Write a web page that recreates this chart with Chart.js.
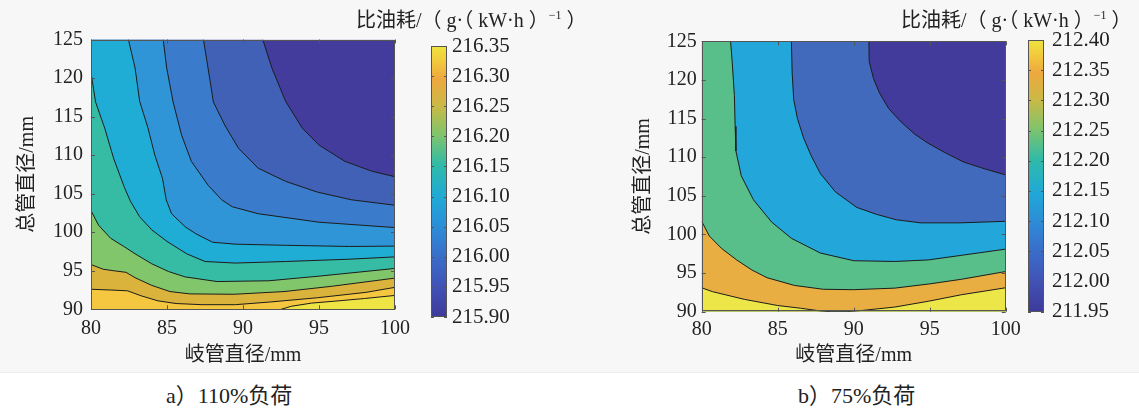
<!DOCTYPE html>
<html>
<head>
<meta charset="utf-8">
<script src="https://cdn.jsdelivr.net/npm/chart.js@4.4.1/dist/chart.umd.min.js"></script>
<style>
html,body{margin:0;padding:0;background:#fff;}
#stage{position:relative;width:1139px;height:410px;overflow:hidden;background:#fff;}
#band{position:absolute;left:0;top:0;width:1139px;height:372px;background:#f7f7f7;border-bottom:1px solid #ededed;}
canvas{position:absolute;top:0;}
.t{position:absolute;font-family:'Liberation Serif','Times New Roman','DejaVu Serif','Noto Sans CJK SC',serif;color:#222;white-space:nowrap;line-height:1;}
</style>
</head>
<body>
<div id="stage">
  <div id="band"></div>
  <canvas id="cA" width="420" height="372" style="left:0px"></canvas>
  <canvas id="bA" width="160" height="372" style="left:420px"></canvas>
  <canvas id="cB" width="420" height="372" style="left:610px"></canvas>
  <canvas id="bB" width="122" height="372" style="left:1017px"></canvas>
  <div class="t" style="left:356px;top:10px;font-size:20px">比油耗/（ g·（ kW·h ）<span style="font-size:12px;position:relative;top:-8px">−1</span> ）</div>
  <div class="t" style="left:901px;top:10px;font-size:20px">比油耗/（ g·（ kW·h ）<span style="font-size:12px;position:relative;top:-8px">−1</span> ）</div>
  <div class="t" style="left:166px;top:385px;font-size:22px">a）110%负荷</div>
  <div class="t" style="left:798px;top:385px;font-size:22px">b）75%负荷</div>
</div>
<script>
// ---------- axes ----------
const X_MIN = 80, X_MAX = 100, Y_MIN = 90, Y_MAX = 125;
const xTicks = [80, 85, 90, 95, 100];
const yTicks = [90, 95, 100, 105, 110, 115, 120, 125];
const cbTicksA = [215.90, 215.95, 216.00, 216.05, 216.10, 216.15, 216.20, 216.25, 216.30, 216.35];
const cbTicksB = [211.95, 212.00, 212.05, 212.10, 212.15, 212.20, 212.25, 212.30, 212.35, 212.40];

// ---------- a) 110% load: contour lines [x, y] ----------
const a_lineA = [[91.3,125],[91.9,121.3],[92.8,117],[93.9,113.5],[95.0,111.3],[96.7,109.2],[98.5,107.9],[100,107.2]];
const a_lineB = [[87.4,125],[87.7,121.3],[88.05,116.9],[88.8,113.9],[89.7,110.9],[91,108.3],[92.8,106.6],[94.9,105.2],[97.15,104.2],[100,103.5]];
const a_lineC = [[84.75,125],[84.98,121.3],[85.4,116.9],[85.96,112.6],[86.6,109.2],[87.7,106.1],[88.6,104.2],[89.3,103.3],[91,102.4],[95,101.3],[100,100.6]];
const a_lineD = [[82.46,125],[82.9,121.3],[83.2,117],[83.75,113.5],[84.2,110],[84.7,107],[84.95,104.2],[85.3,102.4],[86.2,100.7],[86.9,99.8],[88,98.7],[89.5,98.45],[92.8,98.3],[97,98.15],[100,98.2]];
const a_lineE = [[80,120.7],[80.3,116.9],[80.9,113.5],[81.5,109.5],[82.2,105.8],[82.6,104],[83.2,102],[84,100.3],[85,98.8],[86.3,97.2],[87.5,96.2],[89.5,96.0],[92.8,96.2],[97,96.5],[100,96.8]];
const a_lineF = [[80,102.8],[80.5,100.9],[81.3,99.2],[82.2,98.1],[82.9,97.2],[84,95.9],[85.1,94.9],[86.2,94.2],[88.3,93.6],[91.7,93.7],[95,94.3],[100,95.3]];
const a_lineG = [[80,95.8],[80.8,95.2],[81.5,95.0],[82.3,94.8],[82.9,94.1],[84,93.1],[85.2,92.3],[86.5,92.0],[89.4,91.95],[92.7,92.3],[95.9,93.0],[100,94.05]];
const a_lineH = [[80,92.6],[81.3,92.5],[82.4,92.4],[83.3,91.75],[84.4,91.1],[85.6,90.75],[87.3,90.6],[89.5,90.6],[91.8,90.95],[94.9,91.5],[98.1,92.2],[100,92.85]];
const a_lineJ = [[92.5,90],[93.2,90.4],[94.5,90.8],[96,91.05],[98,91.4],[100,91.8]];

// ---------- b) 75% load: contour lines [x, y] ----------
const b_lineP = [[91,125],[91.02,122.4],[91.3,120.2],[91.7,118.3],[92.3,116.3],[93.1,114.6],[94,113],[94.9,111.8],[96,110.6],[97.2,109.4],[98.6,108.5],[100,107.7]];
const b_lineQ = [[85.9,125],[85.95,121],[86.05,117.5],[86.3,115],[86.7,112.5],[87.2,110.2],[87.8,107.9],[88.8,105.5],[90.2,103.5],[91.5,102.6],[92.8,101.9],[94.4,101.5],[97,101.5],[100,101.7]];
const b_lineR = [[81.9,125],[82.0,122.5],[82.15,118],[82.2,114],[82.25,110.8],[82.6,107.6],[83.4,104.5],[84.6,101.6],[85.9,99.5],[87.8,97.6],[90,96.6],[92.7,96.5],[94.9,96.7],[97.1,97.3],[100,98.1]];
const b_lineS = [[80,101.7],[80.5,99.8],[81.3,98.2],[82.3,96.7],[83.3,95.4],[84.3,94.4],[86.1,93.4],[88,92.9],[90,92.85],[92.7,93.05],[95,93.6],[97.1,94.2],[100,95.2]];
const b_lineT = [[80,93.1],[80.7,92.6],[82.8,91.6],[85,90.8],[86.5,90.45],[87.8,90.1],[88.5,90],[89.5,90],[90.5,90.15],[92.7,90.6],[94.9,91.35],[97.1,92.2],[100,93.1]];

// ---------- colours ----------
const aColors = ['#433c9c','#4161b6','#3a7bcb','#2f95d7','#20add5','#36bca4','#82c66b','#dab33d','#f5c640','#eee544'];
const bColors = ['#433b9b','#4169bc','#23a6d9','#58bf8a','#e8ae42','#ede649'];
const cbStops = [[0,'#3d3a9a'],[0.11,'#4152b5'],[0.22,'#3a6dc8'],[0.33,'#2d8cd7'],[0.44,'#1fa9d6'],[0.56,'#30baa8'],[0.67,'#7dc46d'],[0.78,'#cbb946'],[0.88,'#eea83e'],[0.95,'#f2cd3d'],[1,'#eee43d']];
const LINE_COLOR = '#1c1c1c';
const FONT = "'Liberation Serif','Times New Roman','DejaVu Serif','Noto Sans CJK SC',serif";
const TXT = '#222';

const framePlugin = {
  id: 'frame',
  afterDatasetsDraw(chart, args, o) {
    if (!o || !o.on) return;
    const {ctx, chartArea: a, scales} = chart;
    ctx.save();
    ctx.strokeStyle = o.color; ctx.lineWidth = 1;
    ctx.strokeRect(Math.round(a.left)+0.5, Math.round(a.top)+0.5, Math.round(a.right-a.left)-1, Math.round(a.bottom-a.top)-1);
    const L = o.len;
    ctx.beginPath();
    if (o.x) {
      scales.x.ticks.forEach(t => {
        const p = Math.round(scales.x.getPixelForValue(t.value)) + 0.5;
        ctx.moveTo(p, a.bottom); ctx.lineTo(p, a.bottom - L);
        ctx.moveTo(p, a.top); ctx.lineTo(p, a.top + L);
      });
    }
    scales.y.ticks.forEach(t => {
      const p = Math.round(scales.y.getPixelForValue(t.value)) + 0.5;
      ctx.moveTo(a.left, p); ctx.lineTo(a.left + L, p);
      ctx.moveTo(a.right, p); ctx.lineTo(a.right - L, p);
    });
    ctx.stroke();
    ctx.restore();
  }
};

// filled region on the high side of a contour line
function regionSet(line, color) {
  const pts = line.map(([x, y]) => ({x, y}));
  if (pts[0].y === Y_MAX && pts[0].x > X_MIN) pts.unshift({x: X_MIN, y: Y_MAX});
  return {data: pts, fill: 'start', backgroundColor: color, borderWidth: 0, pointRadius: 0, tension: 0};
}
// the contour line itself
function lineSet(line) {
  return {data: line.map(([x, y]) => ({x, y})), fill: false, borderColor: LINE_COLOR, borderWidth: 1, pointRadius: 0, tension: 0};
}
function backSet(color) {
  return {data: [{x: X_MIN, y: Y_MAX}, {x: X_MAX, y: Y_MAX}], fill: 'start', backgroundColor: color, borderWidth: 0, pointRadius: 0};
}

function contourChart(id, datasets, g) {
  return new Chart(document.getElementById(id), {
    type: 'line',
    data: {datasets},
    options: {
      responsive: false, animation: false, events: [],
      layout: {padding: {left: 0, top: g.top, right: g.right, bottom: 0}},
      plugins: {
        legend: {display: false}, tooltip: {enabled: false},
        filler: {drawTime: 'beforeDatasetsDraw', propagate: false},
        frame: {on: true, color: '#555', len: 4, x: true}
      },
      scales: {
        x: {
          type: 'linear', min: X_MIN, max: X_MAX,
          afterFit: s => { s.height = g.xh; },
          afterBuildTicks: s => { s.ticks = xTicks.map(v => ({value: v})); },
          grid: {display: false, drawTicks: false}, border: {display: false},
          ticks: {padding: g.xpad, autoSkip: false, maxRotation: 0, color: TXT, font: {family: FONT, size: 20}},
          title: {display: true, text: '岐管直径/mm', color: TXT, font: {family: FONT, size: 20}, padding: {top: 0, bottom: 4}}
        },
        y: {
          type: 'linear', min: Y_MIN, max: Y_MAX,
          afterFit: s => { s.width = g.yw; },
          afterBuildTicks: s => { s.ticks = yTicks.map(v => ({value: v})); },
          grid: {display: false, drawTicks: false}, border: {display: false},
          ticks: {padding: g.ypad, autoSkip: false, color: TXT, font: {family: FONT, size: 20}},
          title: {display: true, text: '总管直径/mm', color: TXT, font: {family: FONT, size: 20}, padding: {top: g.tpad, bottom: 0}}
        }
      }
    },
    plugins: [framePlugin]
  });
}

function colorbar(id, ticks, g) {
  const lo = ticks[0], hi = ticks[ticks.length - 1];
  return new Chart(document.getElementById(id), {
    type: 'bar',
    data: {labels: [''], datasets: [{
      data: [[lo, hi]], borderWidth: 0, barPercentage: 1, categoryPercentage: 1,
      backgroundColor: c => {
        const a = c.chart.chartArea;
        if (!a) return cbStops[0][1];
        const gr = c.chart.ctx.createLinearGradient(0, a.bottom, 0, a.top);
        cbStops.forEach(([s, col]) => gr.addColorStop(s, col));
        return gr;
      }
    }]},
    options: {
      responsive: false, animation: false, events: [],
      layout: {padding: {left: g.left, top: g.top, right: 0, bottom: g.bottom}},
      plugins: {legend: {display: false}, tooltip: {enabled: false}, frame: {on: true, color: '#555', len: 3, x: false}},
      scales: {
        x: {display: false},
        y: {
          position: 'right', min: lo, max: hi,
          afterFit: s => { s.width = g.w; },
          afterBuildTicks: s => { s.ticks = ticks.map(v => ({value: v})); },
          grid: {display: false, drawTicks: false}, border: {display: false},
          ticks: {padding: g.pad, autoSkip: false, color: TXT, font: {family: FONT, size: 21}, callback: v => Number(v).toFixed(2)}
        }
      }
    },
    plugins: [framePlugin]
  });
}

function buildSets(lines, colors) {
  const sets = lines.map(l => lineSet(l));
  const regions = lines.map((l, i) => regionSet(l, colors[i + 1])).reverse();
  return sets.concat(regions, [backSet(colors[0])]);
}

contourChart('cA', buildSets([a_lineA, a_lineB, a_lineC, a_lineD, a_lineE, a_lineF, a_lineG, a_lineH, a_lineJ], aColors),
  {top: 39.5, right: 25, xh: 62.7, xpad: 7, yw: 91, ypad: 8, tpad: 16});
contourChart('cB', buildSets([b_lineP, b_lineQ, b_lineR, b_lineS, b_lineT], bColors),
  {top: 41.3, right: 24.3, xh: 60.3, xpad: 6, yw: 91.7, ypad: 5, tpad: 22});

colorbar('bA', cbTicksA, {left: 11, top: 46, bottom: 55, w: 133, pad: 5});
colorbar('bB', cbTicksB, {left: 11, top: 40, bottom: 60.3, w: 95, pad: 8});
</script>
</body>
</html>
